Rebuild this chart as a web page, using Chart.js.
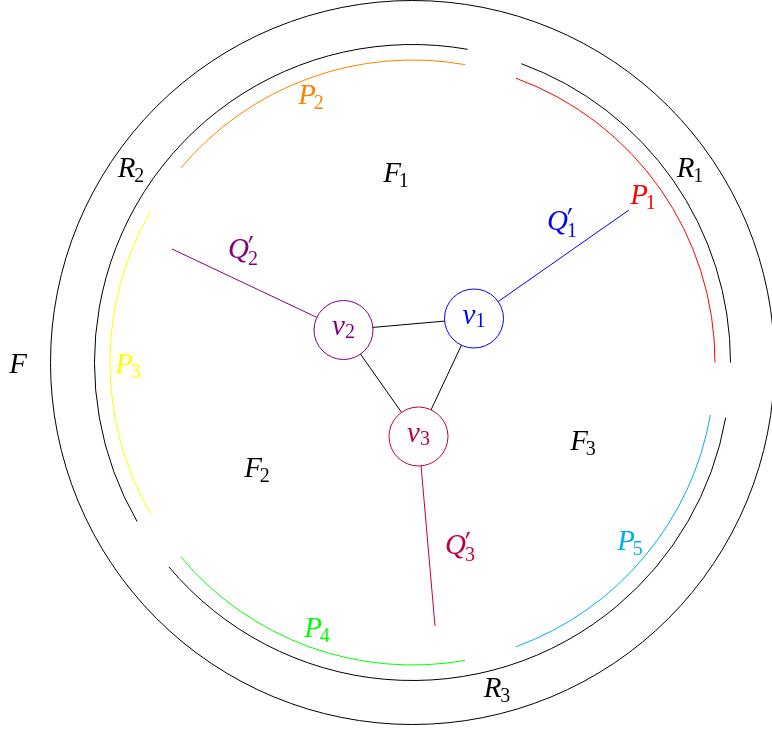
<!DOCTYPE html>
<html>
<head>
<meta charset="utf-8">
<script src="https://cdn.jsdelivr.net/npm/chart.js@4.4.1/dist/chart.umd.min.js"></script>
<style>
html,body{margin:0;padding:0;background:#fff;}
#wrap{width:772px;height:731px;}
</style>
</head>
<body>
<div id="wrap"><canvas id="c" width="772" height="731"></canvas></div>
<script>
// ---- data (diagram units, centre of rings at 0,0, y up) ----
const vertexNames = ['v1', 'v2', 'v3'];
const vertexX = [61.5, -69, 6];
const vertexY = [44, 32.5, -74];
const edgeFrom = [0, 1, 0];
const edgeTo = [1, 2, 2];
const tailNames = ["Q'1", "Q'2", "Q'3"];
const tailX = [216.5, -240.5, 22.5];
const tailY = [152.5, 113.5, -263.5];

const arcNames = ['F', 'R1', 'R2', 'R3', 'P1', 'P2', 'P3', 'P4', 'P5'];
const arcRadius = [362, 318, 318, 318, 302.5, 302.5, 302.5, 302.5, 302.5];
const arcFrom = [0, 0, 80, 220, 0, 80, 150, 220, 290];
const arcTo = [360, 70, 210, 350, 70, 140, 210, 280, 350];

const labelBase = ['P', 'P', 'R', 'R', 'F', 'Q', 'Q', 'F', 'P', 'F', 'F', 'Q', 'P', 'P', 'R'];
const labelSub = ['2', '1', '1', '2', '1', '1', '2', '', '3', '2', '3', '3', '5', '4', '3'];
const labelPrime = [false, false, false, false, false, true, true, false, false, false, false, true, false, false, false];
const labelX = [-101.5, 230.5, 277.5, -281.5, -16.5, 149.5, -169.5, -394.5, -284.5, -155.5, 170.5, 47.5, 217.5, -95.5, 84.5];
const labelY = [265.5, 165.5, 192.5, 192.5, 187.5, 138.5, 110.5, -0.5, -3.5, -107.5, -80.5, -185.5, -180.5, -267.5, -327.5];

// ---- styles ----
const BLUE = '#0000ff', VIOLET = '#800080', PURPLE = '#bf0040';
const vertexColors = [BLUE, VIOLET, PURPLE];
const arcColors = ['#000', '#000', '#000', '#000', '#ff0000', '#ff8000', '#ffff00', '#00ff00', '#00aeef'];
const labelColors = ['#ff8000', '#ff0000', '#000', '#000', '#000', BLUE, VIOLET, '#000', '#ffff00', '#000', '#000', PURPLE, '#00aeef', '#00ff00', '#000'];

const MAIN_FONT = 29, SUB_FONT = 20;
const SERIF = '"Liberation Serif", "DejaVu Serif", serif';

// ---- datasets ----
const datasets = [];
datasets.push({
  type: 'scatter',
  label: 'vertices',
  data: vertexX.map((x, i) => ({x: x, y: vertexY[i]})),
  pointRadius: 29.5,
  pointHoverRadius: 29.5,
  pointBorderWidth: 1,
  pointBackgroundColor: '#ffffff',
  pointBorderColor: vertexColors,
  order: 0
});
edgeFrom.forEach((a, i) => {
  const b = edgeTo[i];
  datasets.push({
    type: 'line',
    label: vertexNames[a] + '-' + vertexNames[b],
    data: [{x: vertexX[a], y: vertexY[a]}, {x: vertexX[b], y: vertexY[b]}],
    borderColor: '#000', borderWidth: 1, pointRadius: 0, fill: false, order: 1
  });
});
tailX.forEach((tx, i) => {
  datasets.push({
    type: 'line',
    label: tailNames[i],
    data: [{x: vertexX[i], y: vertexY[i]}, {x: tx, y: tailY[i]}],
    borderColor: vertexColors[i], borderWidth: 1, pointRadius: 0, fill: false, order: 1
  });
});

// ---- plugins ----
const arcPlugin = {
  id: 'arcs',
  beforeDatasetsDraw(chart) {
    const ctx = chart.ctx, xs = chart.scales.x, ys = chart.scales.y;
    const cx = xs.getPixelForValue(0), cy = ys.getPixelForValue(0);
    ctx.save();
    ctx.lineWidth = 1;
    arcRadius.forEach((r, i) => {
      const rp = xs.getPixelForValue(r) - cx;
      ctx.beginPath();
      ctx.strokeStyle = arcColors[i];
      ctx.arc(cx, cy, rp, -arcFrom[i] * Math.PI / 180, -arcTo[i] * Math.PI / 180, true);
      ctx.stroke();
    });
    ctx.restore();
  }
};

function drawMath(ctx, px, py, base, sub, prime, color, lower) {
  const mainF = 'italic ' + MAIN_FONT + 'px ' + SERIF;
  const subF = SUB_FONT + 'px ' + SERIF;
  ctx.font = mainF;
  const wb = ctx.measureText(base).width;
  ctx.font = subF;
  const ws = sub ? ctx.measureText(sub).width : 0;
  const kern = base === 'F' || base === 'P' ? -2 : (base === 'v' ? 0 : -1);
  const total = wb + (sub ? ws + kern : 0);
  const left = px - total / 2;
  const h = lower ? MAIN_FONT * 0.45 : MAIN_FONT * 0.66;
  const drop = sub ? (prime ? 7 : (lower ? 3 : 5)) : 0;
  const baseline = py + h / 2 - drop / 2;
  ctx.fillStyle = color;
  ctx.textBaseline = 'alphabetic';
  ctx.textAlign = 'left';
  ctx.font = mainF;
  ctx.fillText(base, left, baseline);
  if (sub) {
    ctx.font = subF;
    ctx.fillText(sub, left + wb + kern, baseline + drop);
  }
  if (prime) {
    ctx.save();
    ctx.translate(left + wb + kern, baseline + 4);
    ctx.scale(1.15, 1.6);
    ctx.font = '22px "DejaVu Sans", sans-serif';
    ctx.fillText('\u2032', 0, 0);
    ctx.restore();
  }
}

const labelPlugin = {
  id: 'labels',
  afterDatasetsDraw(chart) {
    const ctx = chart.ctx, xs = chart.scales.x, ys = chart.scales.y;
    ctx.save();
    labelBase.forEach((b, i) => {
      drawMath(ctx, xs.getPixelForValue(labelX[i]), ys.getPixelForValue(labelY[i]),
        b, labelSub[i], labelPrime[i], labelColors[i], false);
    });
    vertexNames.forEach((n, i) => {
      drawMath(ctx, xs.getPixelForValue(vertexX[i]), ys.getPixelForValue(vertexY[i]),
        n[0], n.slice(1), false, vertexColors[i], true);
    });
    ctx.restore();
  }
};

new Chart(document.getElementById('c'), {
  type: 'scatter',
  data: {datasets: datasets},
  options: {
    responsive: false,
    devicePixelRatio: 1,
    animation: false,
    events: [],
    layout: {padding: 0, autoPadding: false},
    plugins: {legend: {display: false}, tooltip: {enabled: false}},
    scales: {
      x: {type: 'linear', min: -412.5, max: 359.5, display: false},
      y: {type: 'linear', min: -368.5, max: 362.5, display: false}
    }
  },
  plugins: [arcPlugin, labelPlugin]
});
</script>
</body>
</html>
